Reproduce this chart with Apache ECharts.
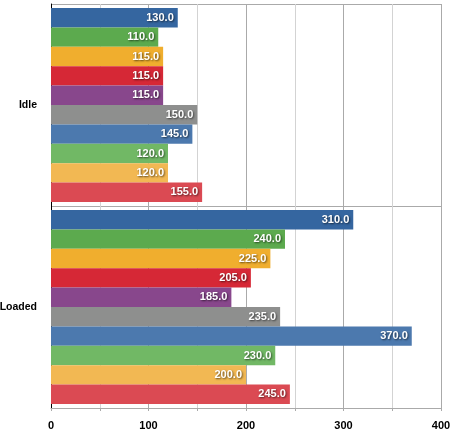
<!DOCTYPE html>
<html><head><meta charset="utf-8">
<script src="https://cdn.jsdelivr.net/npm/echarts@6/dist/echarts.min.js"></script>
<style>html,body{margin:0;padding:0;background:#fff}#c{width:451px;height:434px}</style>
</head><body><div id="c"></div>
<script>
const categories = ['Idle', 'Loaded'];
const seriesNames = ['S1','S2','S3','S4','S5','S6','S7','S8','S9','S10'];
const s1 = [130, 310];
const s2 = [110, 240];
const s3 = [115, 225];
const s4 = [115, 205];
const s5 = [115, 185];
const s6 = [150, 235];
const s7 = [145, 370];
const s8 = [120, 230];
const s9 = [120, 200];
const s10 = [155, 245];
const allValues = [s1,s2,s3,s4,s5,s6,s7,s8,s9,s10];
const colors = ['#3566a0','#5caa4e','#f0ae2e','#d62836','#88478c','#8e8f8e','#4c79ae','#71b865','#f2b853','#db4a53'];
const xTicks = [0,100,200,300,400];

const FONT = '"Liberation Sans Narrow","Arial Narrow","Liberation Sans",Arial,sans-serif';
const chart = echarts.init(document.getElementById('c'));
chart.setOption({
  animation: false,
  grid: {left: 51, right: 10, top: 4, bottom: 26, containLabel: false, outerBoundsMode: 'none'},
  xAxis: {
    type: 'value', min: xTicks[0], max: xTicks[xTicks.length-1], interval: 100,
    axisLine: {show: true, lineStyle: {color: '#aaaaaa', width: 1}},
    axisTick: {show: true, length: 3, lineStyle: {color: '#aaaaaa'}},
    minorTick: {show: true, splitNumber: 2, length: 3, lineStyle: {color: '#aaaaaa'}},
    splitLine: {show: true, lineStyle: {color: '#aaaaaa', width: 1}},
    minorSplitLine: {show: true, lineStyle: {color: '#d3d3d3', width: 1}},
    axisLabel: {color: '#000', fontFamily: FONT, fontWeight: 'bold', fontSize: 11, margin: 12}
  },
  yAxis: {
    type: 'category', data: categories, inverse: true,
    axisLine: {show: true, lineStyle: {color: '#000', width: 1}},
    axisTick: {show: false},
    splitLine: {show: true, lineStyle: {color: '#aaaaaa', width: 1}},
    axisLabel: {color: '#000', fontFamily: FONT, fontWeight: 'bold', fontSize: 10.5, margin: 14}
  },
  series: allValues.map((vals, i) => ({
    name: seriesNames[i], type: 'bar', data: vals,
    barGap: '0%', barCategoryGap: '4%',
    itemStyle: {color: colors[i]},
    label: {
      show: true, position: 'insideRight', distance: 4,
      formatter: p => p.value.toFixed(1),
      color: '#fff', fontFamily: FONT, fontWeight: 'bold', fontSize: 11,
      textShadowColor: 'rgba(0,0,0,0.6)', textShadowBlur: 2, textShadowOffsetX: 1, textShadowOffsetY: 1
    }
  }))
});
</script></body></html>
